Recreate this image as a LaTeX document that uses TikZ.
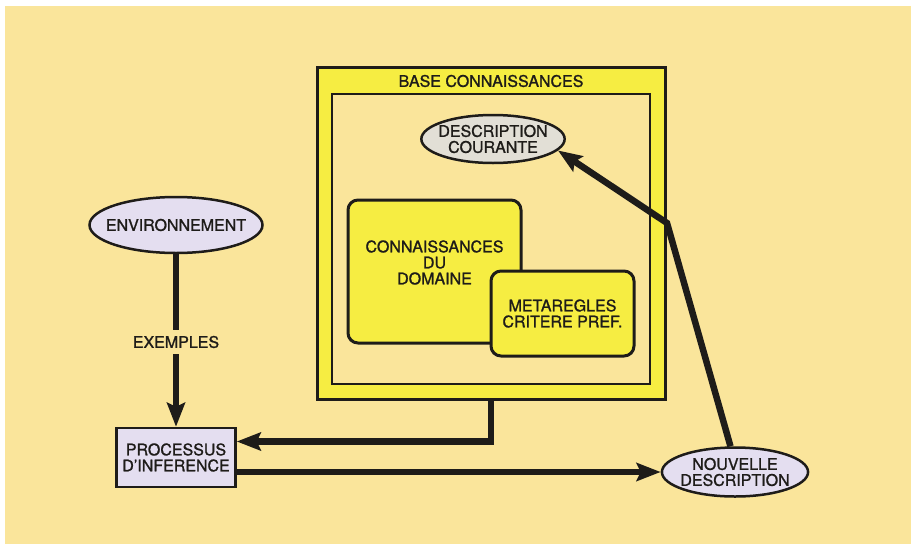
\documentclass[tikz,border=0pt]{standalone}
\usepackage{fontspec}
\setmainfont{TeX Gyre Heros}
\newfontfamily\etiq{TeX Gyre Heros}[FakeBold=1.2]
\usetikzlibrary{arrows.meta,shapes.geometric}
\definecolor{paper}{RGB}{250,229,155}
\definecolor{jaune}{RGB}{246,237,66}
\definecolor{gris}{RGB}{226,223,214}
\definecolor{lilas}{RGB}{228,222,240}
\definecolor{encre}{RGB}{30,28,25}

\begin{document}
\begin{tikzpicture}[x=1pt, y=-1pt,
		txt/.style={text=encre, align=center, font=\etiq\fontsize{16}{16}\selectfont},
		bulle/.style={ellipse, draw=encre, line width=2.5pt, inner ysep=0pt, txt},
		cadre/.style={rectangle, draw=encre, line width=3pt, rounded corners=10pt, fill=jaune, inner sep=0pt},
		flux/.style={draw=encre, line width=6.5pt, -{Stealth[length=24pt,width=18pt,inset=4pt]}}]
	
	% Fond
	\useasboundingbox (0,0) rectangle (911,544);
	\fill[white] (0,0) rectangle (911,544);
	\fill[paper] (5,6) rectangle (911,544);
	
	% Base de connaissances
	\node[draw=encre, line width=3pt, fill=jaune, minimum width=348pt, minimum height=332pt, inner sep=0pt] (base) at (491,233) {};
	\node[draw=encre, line width=2.5pt, fill=paper, minimum width=318pt, minimum height=290pt, inner sep=0pt] (coeur) at (491,239) {};
	\node[txt] (titre) at (491,81) {BASE CONNAISSANCES};
	
	\node[bulle, fill=gris, inner xsep=-4pt, minimum width=143pt, minimum height=48pt] (desc) at (493,139) {DESCRIPTION\\COURANTE};
	
	\node[cadre, minimum width=173pt, minimum height=143pt] (conn) at (434.5,271.5) {};
	\node[txt] (conntxt) at ([yshift=9pt]conn.center) {CONNAISSANCES\\DU\\DOMAINE};
	\node[cadre, minimum width=143pt, minimum height=85pt] (meta) at (562.5,313.5) {};
	\node[txt] (metatxt) at (meta.center) {METAREGLES\\CRITERE PREF.};
	
	% Environnement et processus
	\node[bulle, fill=lilas, inner xsep=-9.5pt, minimum width=173pt, minimum height=56pt] (env) at (176,225) {ENVIRONNEMENT};
	\node[txt, inner sep=6pt] (ex) at (176,342) {EXEMPLES};
	\node[draw=encre, line width=2.5pt, fill=lilas, minimum width=119pt, minimum height=59pt, inner sep=0pt, txt] (proc) at (176,457.5) {PROCESSUS\\D’INFERENCE};
	
	\node[bulle, fill=lilas, inner xsep=-3pt, minimum width=146pt, minimum height=49pt] (nouv) at (735,472) {NOUVELLE\\DESCRIPTION};
	\coordinate (coude) at (667,223);
	
	% Fleches
	\draw[draw=encre, line width=6.5pt] (env) -- (ex);
	\draw[flux] (ex) -- (proc);
	\draw[flux] (base.south) |- ([yshift=16pt]proc.east);
	\draw[flux] (proc.east |- nouv.west) -- (nouv.west);
	\draw[flux] (nouv.100) -- (coude) -- (desc.-10);
\end{tikzpicture}
\end{document}
